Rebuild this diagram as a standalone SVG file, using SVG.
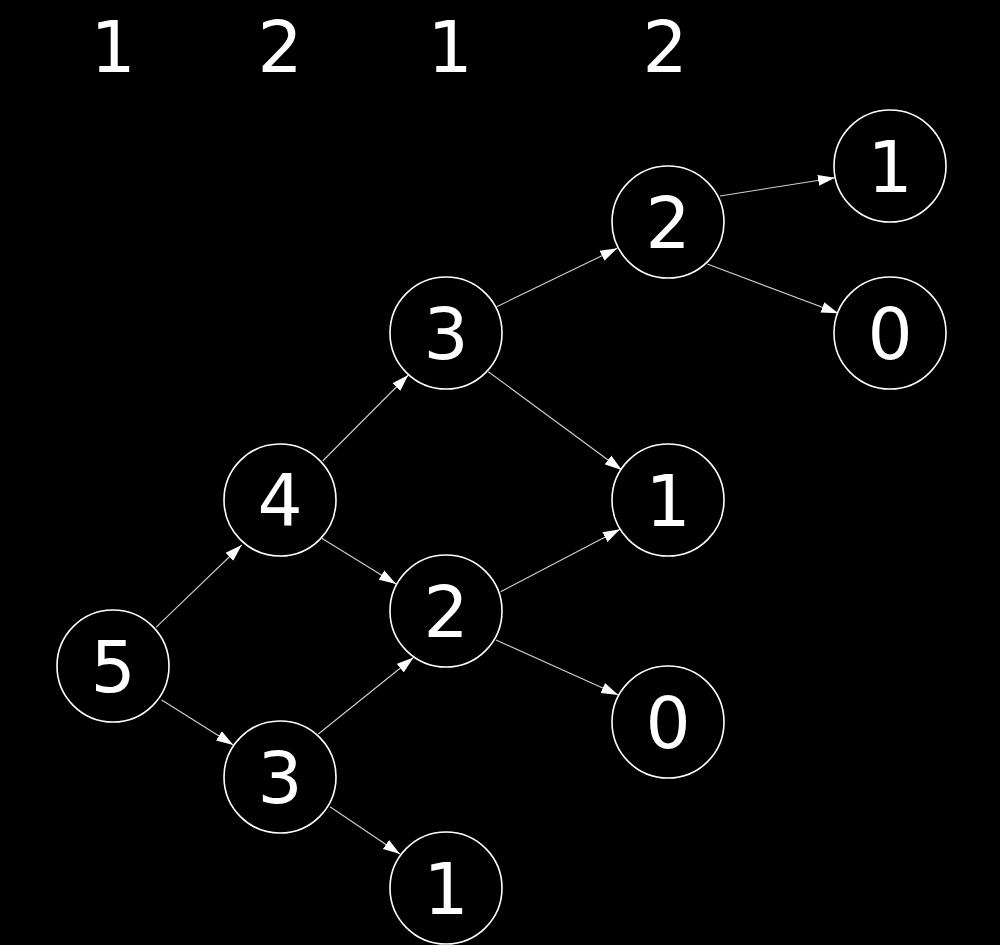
<svg xmlns="http://www.w3.org/2000/svg" width="1000" height="945" viewBox="0 0 1000 945">
<style>
.node circle{fill:#000;stroke:#fff;stroke-width:1.6}
.node text,.lbl{fill:#fff;font-family:"DejaVu Sans",sans-serif;font-size:71px;text-anchor:middle}
.edge{stroke:#d0d0d0;stroke-width:1.1;fill:none;marker-end:url(#arr)}
</style>
<defs>
<marker id="arr" markerUnits="userSpaceOnUse" markerWidth="18" markerHeight="12" refX="17" refY="5.5" orient="auto" viewBox="0 0 18 11">
<path d="M0,0 L17,5.5 L0,11 z" fill="#fff"/>
</marker>
</defs>
<rect width="1000" height="945" fill="#000"/>
<g id="labels">
<text class="lbl" x="113" y="72">1</text>
<text class="lbl" x="280" y="72">2</text>
<text class="lbl" x="450" y="72">1</text>
<text class="lbl" x="665" y="72">2</text>
</g>
<g id="connectors">
<line class="edge" x1="156" y1="627.3" x2="241.7" y2="545"/>
<line class="edge" x1="161.7" y1="700" x2="233.3" y2="745"/>
<line class="edge" x1="322.7" y1="461" x2="408.3" y2="375"/>
<line class="edge" x1="321.7" y1="538.3" x2="396" y2="584"/>
<line class="edge" x1="318.3" y1="734" x2="413.5" y2="657.5"/>
<line class="edge" x1="330" y1="806.7" x2="400" y2="854"/>
<line class="edge" x1="496.7" y1="306.7" x2="617.3" y2="248.3"/>
<line class="edge" x1="488.3" y1="371.7" x2="621.7" y2="470"/>
<line class="edge" x1="500.7" y1="591.7" x2="620" y2="529.3"/>
<line class="edge" x1="496" y1="640" x2="618.3" y2="695"/>
<line class="edge" x1="720" y1="196" x2="835" y2="177.7"/>
<line class="edge" x1="707.3" y1="264" x2="838.3" y2="313.3"/>
</g>
<g id="n5" class="node"><circle cx="113" cy="666" r="56"/><text x="113" y="692">5</text></g>
<g id="n4" class="node"><circle cx="280" cy="500" r="56"/><text x="280" y="525">4</text></g>
<g id="n3a" class="node"><circle cx="280" cy="777" r="56"/><text x="280" y="803">3</text></g>
<g id="n3b" class="node"><circle cx="446" cy="333" r="56"/><text x="446" y="359">3</text></g>
<g id="n2a" class="node"><circle cx="446" cy="611" r="56"/><text x="446" y="637">2</text></g>
<g id="n1a" class="node"><circle cx="446" cy="888" r="56"/><text x="446" y="914">1</text></g>
<g id="n2b" class="node"><circle cx="668" cy="222" r="56"/><text x="668" y="248">2</text></g>
<g id="n1b" class="node"><circle cx="668" cy="500" r="56"/><text x="668" y="526">1</text></g>
<g id="n0a" class="node"><circle cx="668" cy="722" r="56"/><text x="668" y="748">0</text></g>
<g id="n1c" class="node"><circle cx="890" cy="166" r="56"/><text x="890" y="192">1</text></g>
<g id="n0b" class="node"><circle cx="890" cy="333" r="56"/><text x="890" y="359">0</text></g>
</svg>
